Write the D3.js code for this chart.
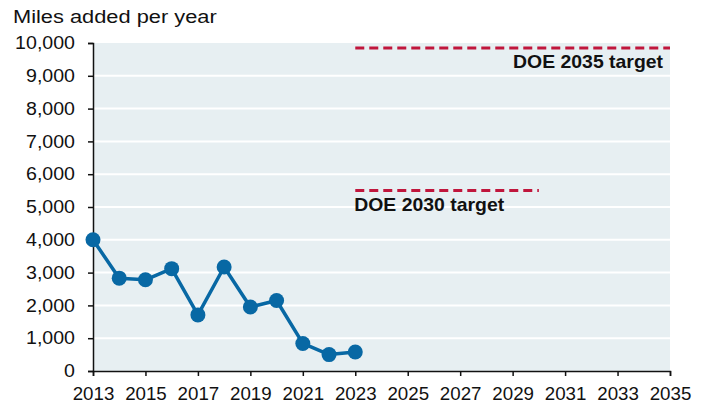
<!DOCTYPE html>
<html>
<head>
<meta charset="utf-8">
<script src="https://cdn.jsdelivr.net/npm/d3@7"></script>
<style>
  body { margin: 0; background: #fff; }
  text { font-family: "Liberation Sans", Arial, sans-serif; fill: #111; }
</style>
</head>
<body>
<script>
// data
const years = [2013, 2014, 2015, 2016, 2017, 2018, 2019, 2020, 2021, 2022, 2023];
const milesAdded = [4000, 2830, 2780, 3120, 1710, 3170, 1950, 2150, 840, 500, 580];
const targetNames = ['DOE 2030 target', 'DOE 2035 target'];
const targetStart = [2023, 2023];
const targetEnd = [2030, 2035];
const targetValues = [5500, 9850];
const yTicks = [0, 1000, 2000, 3000, 4000, 5000, 6000, 7000, 8000, 9000, 10000];
const xTicks = [2013, 2015, 2017, 2019, 2021, 2023, 2025, 2027, 2029, 2031, 2033, 2035];

const width = 708;
const height = 404;
const margin = { top: 43, right: 38, bottom: 33, left: 93 };
const LINE_COLOR = '#0868a4';
const TARGET_COLOR = '#c0163c';
const PLOT_FILL = '#e7eff2';

// the source type is a little wider than Arial, so stretch it sideways
function stretch(sel, k, origin) {
  sel.style('transform-box', 'fill-box')
    .style('transform-origin', origin + ' center')
    .style('transform', `scaleX(${k})`);
}

const svg = d3.select('body')
  .append('svg')
  .attr('width', width)
  .attr('height', height);

const x = d3.scaleLinear()
  .domain([2013, 2035])
  .range([margin.left, width - margin.right]);

const y = d3.scaleLinear()
  .domain([0, 10000])
  .range([height - margin.bottom, margin.top]);

// plot background
svg.append('rect')
  .attr('x', x(2013))
  .attr('y', y(10000))
  .attr('width', x(2035) - x(2013))
  .attr('height', y(0) - y(10000))
  .attr('fill', PLOT_FILL);

// white gridlines
svg.append('g')
  .selectAll('line')
  .data(yTicks.filter(d => d > 0 && d < 10000))
  .enter()
  .append('line')
  .attr('x1', x(2013))
  .attr('x2', x(2035))
  .attr('y1', d => y(d))
  .attr('y2', d => y(d))
  .attr('stroke', '#fff')
  .attr('stroke-width', 2);

// axes
const yAxis = svg.append('g')
  .attr('transform', `translate(${x(2013)},0)`)
  .call(d3.axisLeft(y).tickValues(yTicks).tickSize(5).tickPadding(13).tickFormat(d3.format(',')));

const xAxis = svg.append('g')
  .attr('transform', `translate(0,${y(0)})`)
  .call(d3.axisBottom(x).tickValues(xTicks).tickSize(5).tickPadding(11).tickFormat(d3.format('d')));

[yAxis, xAxis].forEach(ax => {
  ax.select('.domain').attr('stroke', '#111').attr('stroke-width', 1.5);
  ax.selectAll('.tick line').attr('stroke', '#111').attr('stroke-width', 1.5);
  ax.selectAll('.tick text').attr('fill', '#111')
    .attr('font-family', '"Liberation Sans", Arial, sans-serif');
});
yAxis.selectAll('.tick text').attr('font-size', 17.5).call(stretch, 1.12, 'right');
xAxis.selectAll('.tick text').attr('font-size', 18).call(stretch, 1.04, 'center');

// unit label
svg.append('text')
  .attr('x', 13)
  .attr('y', 23)
  .attr('font-size', 18.5)
  .text('Miles added per year')
  .call(stretch, 1.18, 'left');

// target lines
svg.append('g')
  .selectAll('line')
  .data(targetValues)
  .enter()
  .append('line')
  .attr('x1', (d, i) => x(targetStart[i]))
  .attr('x2', (d, i) => x(targetEnd[i]))
  .attr('y1', d => y(d))
  .attr('y2', d => y(d))
  .attr('stroke', TARGET_COLOR)
  .attr('stroke-width', 3)
  .attr('stroke-dasharray', '9 5');

svg.append('text')
  .attr('x', x(targetStart[0]) - 1)
  .attr('y', y(targetValues[0]) + 20)
  .attr('font-size', 17.5)
  .attr('font-weight', 'bold')
  .text(targetNames[0])
  .call(stretch, 1.11, 'left');

svg.append('text')
  .attr('x', x(targetEnd[1]) - 7)
  .attr('y', y(targetValues[1]) + 20)
  .attr('font-size', 17.5)
  .attr('font-weight', 'bold')
  .attr('text-anchor', 'end')
  .text(targetNames[1])
  .call(stretch, 1.11, 'right');

// series
const series = years.map((yr, i) => ({ year: yr, value: milesAdded[i] }));

svg.append('path')
  .datum(series)
  .attr('fill', 'none')
  .attr('stroke', LINE_COLOR)
  .attr('stroke-width', 3.5)
  .attr('stroke-linejoin', 'round')
  .attr('d', d3.line().x(d => x(d.year)).y(d => y(d.value)));

svg.append('g')
  .selectAll('circle')
  .data(series)
  .enter()
  .append('circle')
  .attr('cx', d => x(d.year))
  .attr('cy', d => y(d.value))
  .attr('r', 7.5)
  .attr('fill', LINE_COLOR);
</script>
</body>
</html>
